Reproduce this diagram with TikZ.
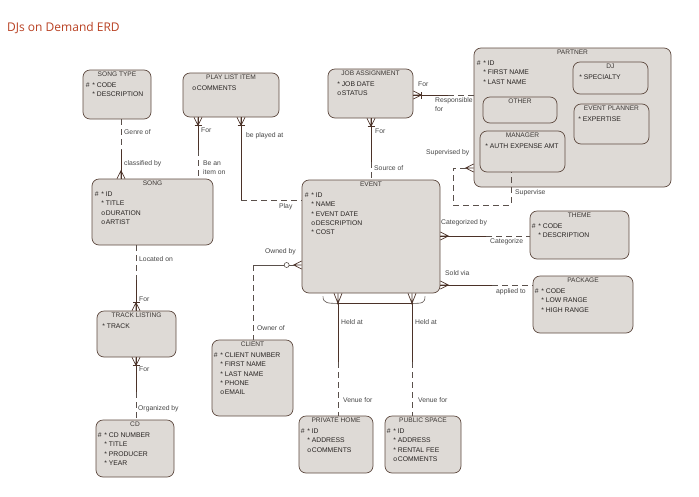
\documentclass[tikz,border=0pt]{standalone}
\usepackage{fontspec}
\setmainfont{Liberation Sans}
\newfontfamily\titlefont{Open Sans}
\usetikzlibrary{calc,fit}

\definecolor{titlered}{RGB}{185,65,35}
\definecolor{boxfill}{RGB}{222,218,214}
\definecolor{boxline}{RGB}{95,75,65}
\definecolor{relline}{RGB}{75,50,40}
\definecolor{dashline}{RGB}{90,80,75}
\definecolor{labelgray}{RGB}{70,70,70}
\definecolor{attrgray}{RGB}{40,36,34}
\definecolor{titlegray}{RGB}{60,55,52}

% one attribute line: uid mark, optionality mark, name
\newcommand{\attr}[3]{\makebox[6.5pt][l]{#1}\makebox[4.5pt][l]{#2}#3}
% crow's foot: edge point, offset to the toe
\newcommand{\crowfoot}[2]{%
	\coordinate (cf-e) at (#1);
	\coordinate (cf-t) at ($(cf-e)+(#2)$);
	\draw[crow] ($(cf-e)!4pt!90:(cf-t)$) -- (cf-t) -- ($(cf-e)!4pt!-90:(cf-t)$) (cf-e) -- (cf-t);
}
\newcommand{\barcrowfoot}[2]{%
	\crowfoot{#1}{#2}
	\draw[crow] ($(cf-t)!3.5pt!90:(cf-e)$) -- ($(cf-t)!3.5pt!-90:(cf-e)$);
}

\begin{document}
\begin{tikzpicture}[x=1pt, y=-1pt,
	entity/.style={draw=boxline, fill=boxfill, rounded corners=7pt, line width=0.7pt, inner sep=0pt},
	etitle/.style={font=\fontsize{6.6}{8}\selectfont, text=titlegray, inner sep=0pt},
	eattr/.style={font=\fontsize{6.8}{9.3}\selectfont, text=attrgray, align=left, inner sep=0pt, anchor=north west},
	solidrel/.style={draw=relline, line width=0.8pt},
	thinrel/.style={draw=dashline, line width=0.6pt},
	dashrel/.style={draw=dashline, line width=0.7pt, dash pattern=on 6pt off 4pt},
	rlabel/.style={font=\fontsize{6.8}{9}\selectfont, text=labelgray, inner sep=0pt, anchor=west, align=left},
	crow/.style={draw=relline, line width=0.7pt},
	optcircle/.style={circle, draw=dashline, fill=white, line width=0.6pt, minimum size=5pt, inner sep=0pt}]
	\path[fill=white, use as bounding box] (0,0) rectangle (699,496);
	
	\node[font=\titlefont\fontsize{12}{14}\selectfont, text=titlered, anchor=west, inner sep=0pt] (title) at (7,28) {DJs on Demand ERD};
	
	% entities
	\foreach \n/\xa/\ya/\xb/\yb/\t in {songtype/83/70/151/119/SONG TYPE,
		plistitem/183/73/279/117/PLAY LIST ITEM, song/92/179/213/245/SONG,
		jobassign/328/69/413/118/JOB ASSIGNMENT, partner/474/48/671/187/PARTNER,
		dj/573/62/648/94/DJ, other/483/97/557/123/OTHER,
		evplanner/574/104/649/144/EVENT PLANNER, manager/480/131/565/172/MANAGER,
		event/302/180/440/293/EVENT, theme/530/211/629/259/THEME,
		package/533/276/633/333/PACKAGE, tracklist/97/311/176/357/TRACK LISTING,
		client/212/340/293/416/CLIENT, cd/96/420/174/477/CD,
		privhome/299/416/373/473/PRIVATE HOME, pubspace/385/416/461/473/PUBLIC SPACE}{
		\node[entity, fit={(\xa,\ya) (\xb,\yb)}] (\n) {};
		\node[etitle] (\n-title) at ([yshift=-5pt]\n.north) {\t};
	}
	
	% attributes
	\node[eattr] (songtype-attr) at ([xshift=3pt,yshift=-13pt]songtype.north west) {\attr{\#}{*}{CODE}\\\attr{}{*}{DESCRIPTION}};
	\node[eattr] (plistitem-attr) at ([xshift=3pt,yshift=-13pt]plistitem.north west) {\attr{}{o}{COMMENTS}};
	\node[eattr] (song-attr) at ([xshift=3pt,yshift=-13pt]song.north west) {\attr{\#}{*}{ID}\\\attr{}{*}{TITLE}\\\attr{}{o}{DURATION}\\\attr{}{o}{ARTIST}};
	\node[eattr] (jobassign-attr) at ([xshift=3pt,yshift=-13pt]jobassign.north west) {\attr{}{*}{JOB DATE}\\\attr{}{o}{STATUS}};
	\node[eattr] (partner-attr) at ([xshift=3pt,yshift=-13pt]partner.north west) {\attr{\#}{*}{ID}\\\attr{}{*}{FIRST NAME}\\\attr{}{*}{LAST NAME}};
	\node[eattr] (dj-attr) at ([xshift=0pt,yshift=-13pt]dj.north west) {\attr{}{*}{SPECIALTY}};
	\node[eattr] (evplanner-attr) at ([xshift=-2pt,yshift=-13pt]evplanner.north west) {\attr{}{*}{EXPERTISE}};
	\node[eattr] (manager-attr) at ([xshift=-1pt,yshift=-13pt]manager.north west) {\attr{}{*}{AUTH EXPENSE AMT}};
	\node[eattr] (event-attr) at ([xshift=3pt,yshift=-13pt]event.north west) {\attr{\#}{*}{ID}\\\attr{}{*}{NAME}\\\attr{}{*}{EVENT DATE}\\\attr{}{o}{DESCRIPTION}\\\attr{}{*}{COST}};
	\node[eattr] (theme-attr) at ([xshift=2pt,yshift=-13pt]theme.north west) {\attr{\#}{*}{CODE}\\\attr{}{*}{DESCRIPTION}};
	\node[eattr] (package-attr) at ([xshift=2pt,yshift=-13pt]package.north west) {\attr{\#}{*}{CODE}\\\attr{}{*}{LOW RANGE}\\\attr{}{*}{HIGH RANGE}};
	\node[eattr] (tracklist-attr) at ([xshift=-1pt,yshift=-13pt]tracklist.north west) {\attr{}{*}{TRACK}};
	\node[eattr] (client-attr) at ([xshift=2pt,yshift=-13pt]client.north west) {\attr{\#}{*}{CLIENT NUMBER}\\\attr{}{*}{FIRST NAME}\\\attr{}{*}{LAST NAME}\\\attr{}{*}{PHONE}\\\attr{}{o}{EMAIL}};
	\node[eattr] (cd-attr) at ([xshift=2pt,yshift=-13pt]cd.north west) {\attr{\#}{*}{CD NUMBER}\\\attr{}{*}{TITLE}\\\attr{}{*}{PRODUCER}\\\attr{}{*}{YEAR}};
	\node[eattr] (privhome-attr) at ([xshift=2pt,yshift=-13pt]privhome.north west) {\attr{\#}{*}{ID}\\\attr{}{*}{ADDRESS}\\\attr{}{o}{COMMENTS}};
	\node[eattr] (pubspace-attr) at ([xshift=2pt,yshift=-13pt]pubspace.north west) {\attr{\#}{*}{ID}\\\attr{}{*}{ADDRESS}\\\attr{}{*}{RENTAL FEE}\\\attr{}{o}{COMMENTS}};
	
	% song type - song
	\coordinate (genre) at (121,150);
	\draw[dashrel] (songtype.south -| genre) -- (genre);
	\draw[solidrel] (genre) -- (song.north -| genre);
	\crowfoot{song.north -| genre}{0,-8}
	\node[rlabel] (genre-a) at (124,132) {Genre of};
	\node[rlabel] (genre-b) at (124,164) {classified by};
	
	% play list item - song
	\coordinate (itemon) at (198,150);
	\draw[solidrel] (plistitem.south -| itemon) -- (itemon);
	\draw[dashrel] (itemon) -- (song.north -| itemon);
	\barcrowfoot{plistitem.south -| itemon}{0,8}
	\node[rlabel] (itemon-a) at (201,130) {For};
	\node[rlabel] (itemon-b) at (203,167.5) {Be an\\item on};
	
	% play list item - event
	\coordinate (played) at (241,200);
	\draw[solidrel] (plistitem.south -| played) -- (played);
	\draw[dashrel] (played) -- (event.west |- played);
	\barcrowfoot{plistitem.south -| played}{0,8}
	\node[rlabel] (played-a) at (246,136) {be played at};
	\node[rlabel] (played-b) at (279,207) {Play};
	
	% job assignment - partner
	\coordinate (resp) at (448,95);
	\draw[solidrel] (jobassign.east |- resp) -- (resp);
	\draw[dashrel] (resp) -- (partner.west |- resp);
	\barcrowfoot{jobassign.east |- resp}{8,0}
	\node[rlabel] (resp-a) at (418,84) {For};
	\node[rlabel] (resp-b) at (435,105) {Responsible\\for};
	
	% job assignment - event
	\coordinate (source) at (371,162);
	\draw[solidrel] (jobassign.south -| source) -- (source);
	\draw[dashrel] (source) -- (event.north -| source);
	\barcrowfoot{jobassign.south -| source}{0,8}
	\node[rlabel] (source-a) at (375,131) {For};
	\node[rlabel] (source-b) at (374,168) {Source of};
	
	% manager supervises partner
	\coordinate (supby) at (453,168);
	\coordinate (supcorner) at (453,205);
	\coordinate (supend) at (511,205);
	\crowfoot{partner.west |- supby}{-8,0}
	\draw[dashrel] (cf-t) -- (supby) -- (supcorner) -- (supend) -- (manager.south -| supend);
	\node[rlabel] (supby-a) at (426,153) {Supervised by};
	\node[rlabel] (supby-b) at (515,193) {Supervise};
	
	% event - theme
	\coordinate (categ) at (486,236);
	\draw[solidrel] (event.east |- categ) -- (categ);
	\draw[dashrel] (categ) -- (theme.west |- categ);
	\crowfoot{event.east |- categ}{8,0}
	\node[rlabel] (categ-a) at (441,223) {Categorized by};
	\node[rlabel] (categ-b) at (490,242) {Categorize};
	
	% event - package
	\coordinate (sold) at (492,285);
	\draw[solidrel] (event.east |- sold) -- (sold);
	\draw[dashrel] (sold) -- (package.west |- sold);
	\crowfoot{event.east |- sold}{8,0}
	\node[rlabel] (sold-a) at (445,273) {Sold via};
	\node[rlabel] (sold-b) at (496,292) {applied to};
	
	% event - client
	\coordinate (owned) at (253,265);
	\crowfoot{event.west |- owned}{-8,0}
	\node[optcircle] (owned-o) at ($(event.west |- owned)+(-15,0)$) {};
	\draw[thinrel] (cf-t) -- (owned-o) (owned-o) -- (owned);
	\draw[dashrel] (owned) -- (client.north -| owned);
	\node[rlabel] (owned-a) at (265,252) {Owned by};
	\node[rlabel] (owned-b) at (257,328) {Owner of};
	
	% event - private home / public space (arc)
	\coordinate (heldp) at (338,362);
	\coordinate (heldq) at (412,362);
	\crowfoot{event.south -| heldp}{0,10}
	\coordinate (arcl) at (cf-t);
	\crowfoot{event.south -| heldq}{0,10}
	\coordinate (arcr) at (cf-t);
	\draw[thinrel] ($(arcl)+(-15,-7)$) .. controls ($(arcl)+(-15,0)$) and ($(arcl)+(-10,0)$) .. (arcl)
		-- (arcr) .. controls ($(arcr)+(10,0)$) and ($(arcr)+(13,0)$) .. ($(arcr)+(13,-7)$);
	\draw[solidrel] (arcl) -- (arcr);
	\draw[solidrel] (arcl) -- (heldp);
	\draw[solidrel] (arcr) -- (heldq);
	\fill[relline] (arcl) circle (1.3pt) (arcr) circle (1.3pt);
	\draw[dashrel] (heldp) -- (privhome.north -| heldp);
	\draw[dashrel] (heldq) -- (pubspace.north -| heldq);
	\node[rlabel] (held-a) at (341,322) {Held at};
	\node[rlabel] (held-b) at (415,322) {Held at};
	\node[rlabel] (venue-a) at (343,400) {Venue for};
	\node[rlabel] (venue-b) at (418,400) {Venue for};
	
	% song - track listing
	\coordinate (located) at (136,280);
	\draw[dashrel] (song.south -| located) -- (located);
	\draw[solidrel] (located) -- (tracklist.north -| located);
	\barcrowfoot{tracklist.north -| located}{0,-8}
	\node[rlabel] (located-a) at (139,259) {Located on};
	\node[rlabel] (located-b) at (139,299) {For};
	
	% track listing - cd
	\coordinate (organized) at (136,392);
	\draw[solidrel] (tracklist.south -| organized) -- (organized);
	\draw[dashrel] (organized) -- (cd.north -| organized);
	\barcrowfoot{tracklist.south -| organized}{0,8}
	\node[rlabel] (organized-a) at (139,369) {For};
	\node[rlabel] (organized-b) at (138,409) {Organized by};
\end{tikzpicture}
\end{document}
